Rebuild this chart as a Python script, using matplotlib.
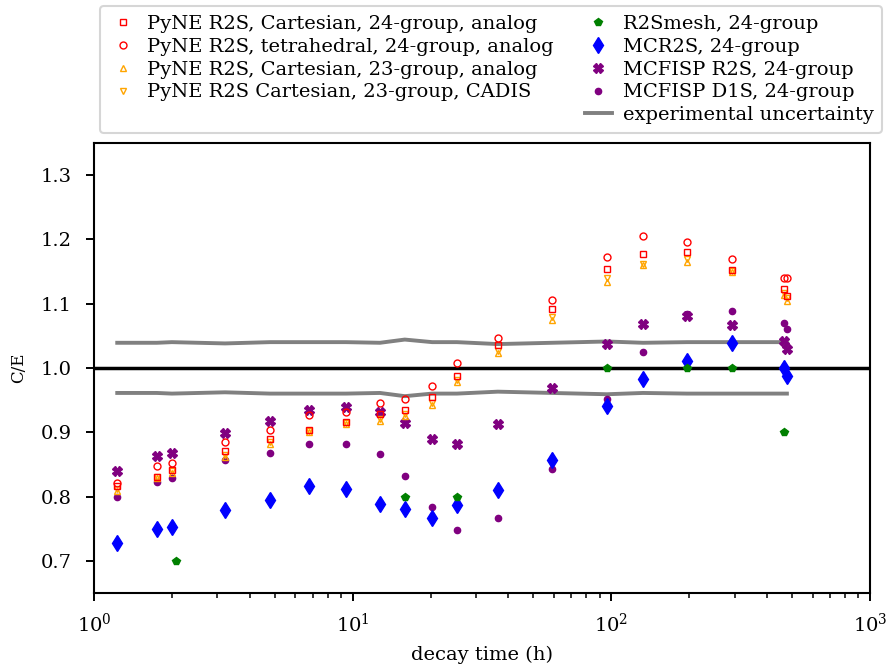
import numpy as np
import matplotlib.pyplot as plt
from matplotlib.lines import Line2D

plt.rcParams['font.family'] = ['DejaVu Serif']
plt.rcParams['font.size'] = 14
plt.rcParams['mathtext.fontset'] = 'dejavuserif'
plt.rcParams['axes.linewidth'] = 1.5
plt.rcParams['xtick.major.size'] = 6
plt.rcParams['ytick.major.size'] = 6
plt.rcParams['xtick.major.width'] = 1.4
plt.rcParams['ytick.major.width'] = 1.4
plt.rcParams['xtick.minor.size'] = 3.5
plt.rcParams['xtick.minor.width'] = 1.1
plt.rcParams['xtick.major.pad'] = 8
plt.rcParams['ytick.major.pad'] = 10

# decay times (h)
t = [1.23, 1.75, 2.0, 3.21, 4.79, 6.78, 9.42, 12.75, 15.9, 20.3, 25.3,
     36.4, 58.9, 96.2, 132.5, 196, 292.5, 465, 477]

pyne_cart24 = [0.816, 0.831, 0.841, 0.871, 0.890, 0.904, 0.916, 0.928, 0.935, 0.954,
               0.988, 1.036, 1.091, 1.154, 1.177, 1.180, 1.152, 1.122, 1.112]
pyne_tet24 = [0.821, 0.847, 0.852, 0.884, 0.903, 0.927, 0.932, 0.945, 0.952, 0.972,
              1.008, 1.047, 1.105, 1.173, 1.205, 1.196, 1.169, 1.140, 1.140]
pyne_cart23 = [0.808, 0.828, 0.837, 0.861, 0.882, 0.900, 0.912, 0.918, 0.925, 0.942,
               0.978, 1.023, 1.074, 1.134, 1.160, 1.165, 1.149, 1.113, 1.104]
pyne_cart23_cadis = [0.812, 0.831, 0.839, 0.864, 0.885, 0.902, 0.914, 0.921, 0.928, 0.946,
                     0.981, 1.026, 1.079, 1.140, 1.162, 1.170, 1.151, 1.117, 1.108]

t_r2smesh = [2.07, 15.9, 25.3, 96.2, 196, 292.5, 465]
r2smesh = [0.70, 0.80, 0.80, 1.00, 1.00, 1.00, 0.90]

mcr2s = [0.727, 0.749, 0.753, 0.779, 0.795, 0.817, 0.811, 0.788, 0.780, 0.766,
         0.787, 0.810, 0.857, 0.940, 0.983, 1.010, 1.039, 1.000, 0.988]
mcfisp_r2s = [0.840, 0.863, 0.867, 0.899, 0.918, 0.935, 0.939, 0.931, 0.915, 0.889,
              0.881, 0.912, 0.969, 1.037, 1.068, 1.081, 1.067, 1.042, 1.030]
mcfisp_d1s = [0.800, 0.822, 0.828, 0.856, 0.868, 0.881, 0.882, 0.866, 0.832, 0.783,
              0.748, 0.766, 0.843, 0.952, 1.024, 1.083, 1.088, 1.069, 1.061]

# relative experimental uncertainty
exp_unc = [0.039, 0.039, 0.040, 0.038, 0.040, 0.040, 0.040, 0.039, 0.044, 0.040,
           0.040, 0.037, 0.039, 0.041, 0.039, 0.040, 0.040, 0.040, 0.040]

fig = plt.figure(figsize=(8.9, 6.68), dpi=100)
ax = fig.add_axes([0.1056, 0.1123, 0.872, 0.674])

ax.axhline(1.0, color='black', lw=2.5, zorder=1)
unc = np.array(exp_unc)
ax.plot(t, 1 + unc, color='gray', lw=2.8, zorder=1, label='experimental uncertainty')
ax.plot(t, 1 - unc, color='gray', lw=2.8, zorder=1)

ax.plot(t, mcfisp_d1s, 'o', color='purple', ms=4.5, label='MCFISP D1S, 24-group')
ax.plot(t, mcfisp_r2s, 'X', color='purple', ms=7, label='MCFISP R2S, 24-group')
ax.plot(t, mcr2s, 'd', color='blue', ms=8.5, label='MCR2S, 24-group')
ax.plot(t_r2smesh, r2smesh, 'p', color='green', ms=6, label='R2Smesh, 24-group')
ax.plot(t, pyne_cart23_cadis, 'v', mfc='none', mec='orange', ms=5,
        label='PyNE R2S Cartesian, 23-group, CADIS')
ax.plot(t, pyne_cart23, '^', mfc='none', mec='orange', ms=5,
        label='PyNE R2S, Cartesian, 23-group, analog')
ax.plot(t, pyne_tet24, 'o', mfc='none', mec='red', ms=5,
        label='PyNE R2S, tetrahedral, 24-group, analog')
ax.plot(t, pyne_cart24, 's', mfc='none', mec='red', ms=5,
        label='PyNE R2S, Cartesian, 24-group, analog')

ax.set_xscale('log')
ax.set_xlim(1, 1000)
ax.set_ylim(0.65, 1.35)
ax.set_yticks([0.7, 0.8, 0.9, 1.0, 1.1, 1.2, 1.3])
ax.set_xlabel('decay time (h)', labelpad=7)
ax.set_ylabel('C/E', fontsize=12, labelpad=10)

h, l = ax.get_legend_handles_labels()
order = [8, 7, 6, 5, 4, 3, 2, 1, 0]
h = [h[i] for i in order]
l = [l[i] for i in order]
blank = Line2D([], [], linestyle='none')
h = h[:4] + [blank] + h[4:]
l = l[:4] + [''] + l[4:]
leg = ax.legend(h, l, ncol=2, loc='lower center', bbox_to_anchor=(0.512, 1.0),
                fontsize=14, handlelength=1.4, handletextpad=0.55,
                labelspacing=0.25, columnspacing=1.6, borderpad=0.45)
leg.get_frame().set_linewidth(1.5)

fig.savefig('out.png', dpi=100)
